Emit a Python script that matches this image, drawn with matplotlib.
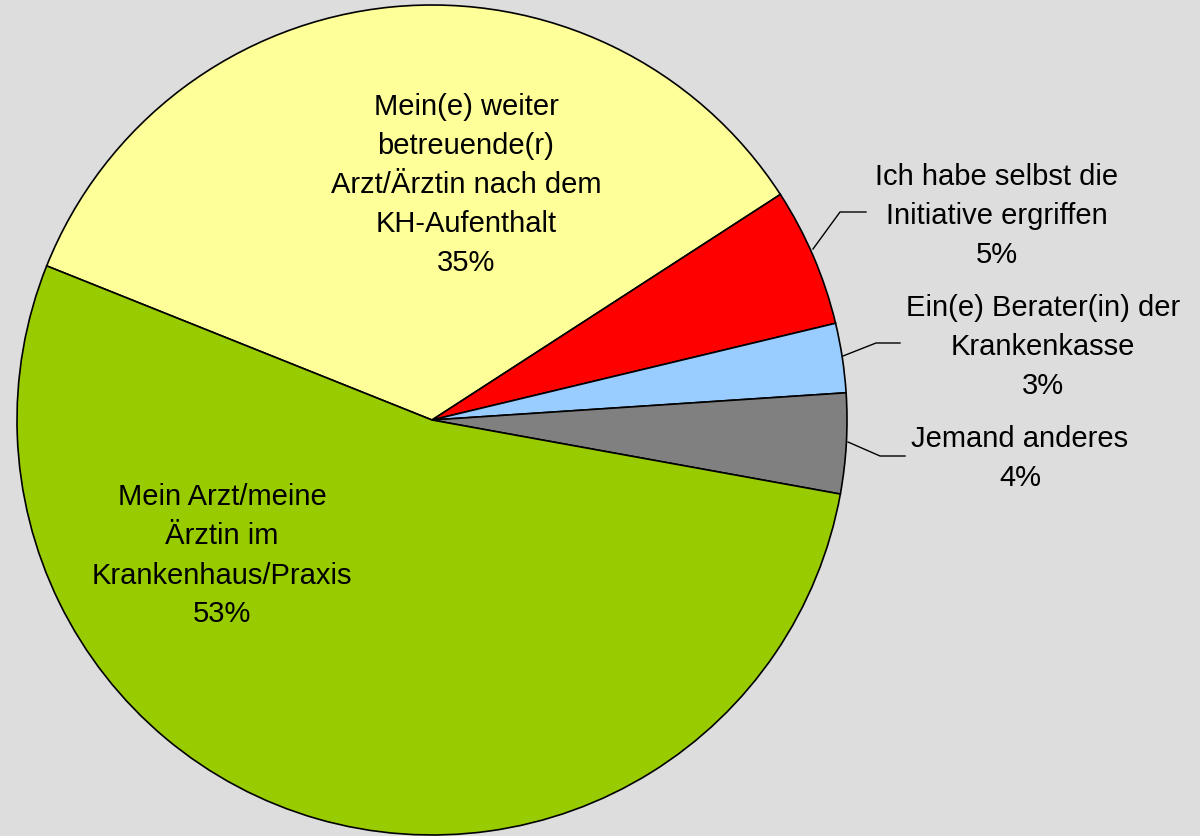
import matplotlib.pyplot as plt

# Anteile (in Prozent), im Uhrzeigersinn ab der gelben Scheibe
categories = [
    "Mein(e) weiter\nbetreuende(r)\nArzt/Ärztin nach dem\nKH-Aufenthalt",
    "Ich habe selbst die\nInitiative ergriffen",
    "Ein(e) Berater(in) der\nKrankenkasse",
    "Jemand anderes",
    "Mein Arzt/meine\nÄrztin im\nKrankenhaus/Praxis",
]
shares = [34.8, 5.4, 2.7, 3.9, 53.2]
colors = ["#FFFF99", "#FF0000", "#99CCFF", "#808080", "#99CC00"]

W, H = 1200, 837
BG = "#DDDDDD"

plt.rcParams['font.family'] = ['Liberation Sans', 'DejaVu Sans']

fig = plt.figure(figsize=(W / 100, H / 100), dpi=100, facecolor=BG)
ax = fig.add_axes([0, 0, 1, 1])
ax.set_facecolor(BG)

def py(y):
    # pixel row (from top) -> data y
    return H - y

ax.pie(shares, colors=colors, startangle=158.2, counterclock=False,
       center=(432, py(421)), radius=415, frame=True,
       wedgeprops=dict(edgecolor='black', linewidth=1.2))
ax.set_xlim(0, W)
ax.set_ylim(0, H)
ax.set_aspect('equal')
ax.axis('off')

labels = [f"{c}\n{round(s):.0f}%" for c, s in zip(categories, shares)]

# label centres (px) and leader lines
label_pos = [(466, 185), (997, 216), (1043, 347), (1020, 459), (222, 556)]
leaders = [None,
           [(813, 250), (840, 213), (866, 213)],
           [(843, 357), (876, 344), (900, 344)],
           [(848, 443), (880, 457), (905, 457)],
           None]

for lab, (x, y), ld in zip(labels, label_pos, leaders):
    ax.text(x, py(y), lab, ha='center', va='center', fontsize=21,
            linespacing=1.5, color='black')
    if ld:
        ax.plot([p[0] for p in ld], [py(p[1]) for p in ld], color='black', lw=1)

fig.savefig("out.png", dpi=100, facecolor=BG)
